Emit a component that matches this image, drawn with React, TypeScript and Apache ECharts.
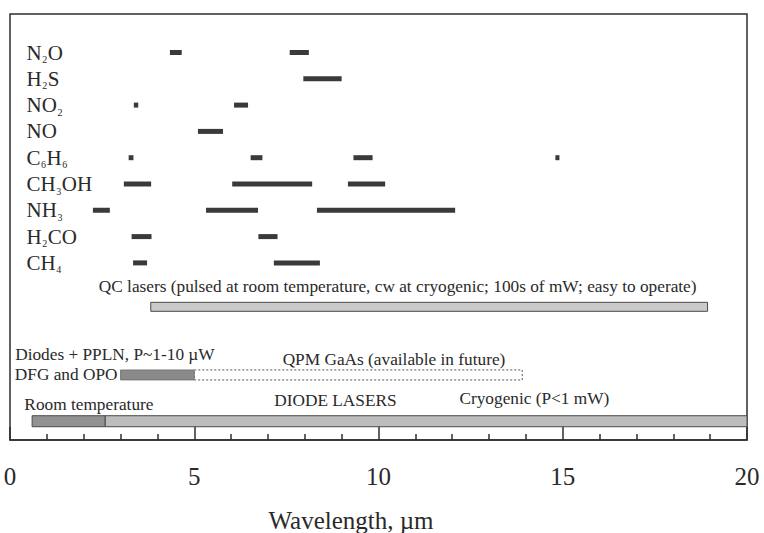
import React, { useEffect, useRef } from 'react';
import * as echarts from 'echarts';

// ---- Data -----------------------------------------------------------------

// Gas absorption bands, wavelength ranges in µm (one array per molecule)
const moleculeNames = ['N2O', 'H2S', 'NO2', 'NO', 'C6H6', 'CH3OH', 'NH3', 'H2CO', 'CH4'];
// How each formula is typeset: '_' marks the subscript digit that follows it
const moleculeFormulas = ['N_2O', 'H_2S', 'NO_2', 'NO', 'C_6H_6', 'CH_3OH', 'NH_3', 'H_2CO', 'CH_4'];

const n2oBands = [[4.34, 4.66], [7.59, 8.11]];
const h2sBands = [[7.96, 9.0]];
const no2Bands = [[3.36, 3.48], [6.08, 6.46]];
const noBands = [[5.1, 5.78]];
const c6h6Bands = [[3.22, 3.35], [6.53, 6.85], [9.32, 9.84], [14.8, 14.91]];
const ch3ohBands = [[3.09, 3.83], [6.03, 8.2], [9.17, 10.18]];
const nh3Bands = [[2.25, 2.71], [5.32, 6.73], [8.33, 12.08]];
const h2coBands = [[3.3, 3.84], [6.74, 7.26]];
const ch4Bands = [[3.34, 3.72], [7.16, 8.41]];

const moleculeBands = [n2oBands, h2sBands, no2Bands, noBands, c6h6Bands, ch3ohBands, nh3Bands, h2coBands, ch4Bands];

// Laser source coverage, µm
const qcLaserRange = [3.82, 18.93];
const dfgOpoRange = [3.0, 5.0];
const qpmGaAsRange = [5.0, 13.9];
const diodeRoomTempRange = [0.6, 2.58];
const diodeCryoRange = [2.58, 20];

// Wavelength axis
const wavelengthMin = 0;
const wavelengthMax = 20;
const wavelengthStep = 5;
const axisTitle = 'Wavelength, µm';

const annotationTexts = [
  'QC lasers (pulsed at room temperature, cw at cryogenic; 100s of mW; easy to operate)',
  'Diodes + PPLN, P~1-10 µW',
  'DFG and OPO',
  'QPM GaAs (available in future)',
  'Room temperature',
  'DIODE LASERS',
  'Cryogenic (P<1 mW)',
];

// ---- Layout ---------------------------------------------------------------

const SERIF = '"Liberation Serif", "Times New Roman", serif';
const INK = '#2a2a2a';

// vertical lanes (molecule rows are lanes 0..8)
const LANE_QC = 9.67;
const LANE_DFG = 12.26;
const LANE_DIODE = 14.02;

// [wavelength, lane, align] for each annotation text
const annotationLayout: [number, number, string][] = [
  [10.52, 8.88, 'center'],
  [0.14, 11.48, 'left'],
  [0.13, 12.26, 'left'],
  [10.42, 11.69, 'center'],
  [0.39, 13.37, 'left'],
  [8.83, 13.25, 'center'],
  [14.23, 13.17, 'center'],
];

const GRID = { left: 10, right: 17, top: 14, bottom: 93 };
const PX_PER_LANE = 26.3;
const FIRST_ROW_Y = 52.5;
const plotHeight = 533 - GRID.top - GRID.bottom;
const laneMin = -(FIRST_ROW_Y - GRID.top) / PX_PER_LANE;
const laneMax = laneMin + plotHeight / PX_PER_LANE;

const MAIN_FONT = `21px ${SERIF}`;
const SUB_FONT = `10px ${SERIF}`;
const SUB_DROP = 7;
const NOTE_FONT = `17.3px ${SERIF}`;

let measureCtx: CanvasRenderingContext2D | null = null;
function textWidth(s: string, font: string): number {
  if (!measureCtx) measureCtx = document.createElement('canvas').getContext('2d');
  measureCtx!.font = font;
  return measureCtx!.measureText(s).width;
}

// a horizontal bar series: each item is [start, end, lane]
function barSeries(name: string, items: number[][], height: number, style: any) {
  return {
    type: 'custom',
    name,
    data: items,
    encode: { x: [0, 1], y: 2 },
    silent: true,
    renderItem: (_params: any, api: any) => {
      const a = api.coord([api.value(0), api.value(2)]);
      const b = api.coord([api.value(1), api.value(2)]);
      return {
        type: 'rect',
        shape: { x: a[0], y: a[1] - height / 2, width: b[0] - a[0], height },
        style,
      };
    },
  };
}

function buildOption(): any {
  const bandItems: number[][] = [];
  moleculeBands.forEach((bands, row) => {
    bands.forEach(([s, e]) => bandItems.push([s, e, row]));
  });

  // chemical formulas, with subscripts set lower and smaller
  const labelSeries = {
    type: 'custom',
    name: 'molecules',
    data: moleculeNames.map((_, row) => [0.45, row]),
    encode: { x: 0, y: 1 },
    silent: true,
    renderItem: (params: any, api: any) => {
      const f = moleculeFormulas[params.dataIndex];
      const [x0, y0] = api.coord([api.value(0), api.value(1)]);
      const children: any[] = [];
      let pen = x0;
      let k = 0;
      while (k < f.length) {
        if (f[k] === '_') {
          const digit = f[k + 1];
          children.push({
            type: 'text',
            x: pen + 0.5,
            y: y0 + SUB_DROP,
            style: { text: digit, font: SUB_FONT, fill: INK, align: 'left', verticalAlign: 'middle' },
          });
          pen += textWidth(digit, SUB_FONT) + 1;
          k += 2;
        } else {
          let run = '';
          while (k < f.length && f[k] !== '_') run += f[k++];
          children.push({
            type: 'text',
            x: pen,
            y: y0,
            style: { text: run, font: MAIN_FONT, fill: INK, align: 'left', verticalAlign: 'middle' },
          });
          pen += textWidth(run, MAIN_FONT);
        }
      }
      return { type: 'group', children };
    },
  };

  const noteSeries = {
    type: 'custom',
    name: 'notes',
    data: annotationLayout.map(([x, lane]) => [x, lane]),
    encode: { x: 0, y: 1 },
    silent: true,
    renderItem: (params: any, api: any) => {
      const p = api.coord([api.value(0), api.value(1)]);
      return {
        type: 'text',
        x: p[0],
        y: p[1],
        style: {
          text: annotationTexts[params.dataIndex],
          font: NOTE_FONT,
          fill: INK,
          align: annotationLayout[params.dataIndex][2],
          verticalAlign: 'middle',
        },
      };
    },
  };

  return {
    animation: false,
    backgroundColor: '#ffffff',
    grid: { ...GRID, show: true, borderColor: '#2e2e2e', borderWidth: 1.5, backgroundColor: 'transparent' },
    xAxis: {
      type: 'value',
      min: wavelengthMin,
      max: wavelengthMax,
      interval: wavelengthStep,
      axisLine: { show: true, onZero: false, lineStyle: { color: '#2e2e2e', width: 1.5 } },
      axisTick: { show: true, inside: true, length: 13, lineStyle: { color: '#2e2e2e', width: 1.5 } },
      minorTick: { show: true, splitNumber: 5, length: 6, lineStyle: { color: '#2e2e2e', width: 1.5 } },
      splitLine: { show: false },
      axisLabel: { fontFamily: SERIF, fontSize: 25, color: INK, margin: 24 },
    },
    yAxis: {
      type: 'value',
      inverse: true,
      min: laneMin,
      max: laneMax,
      show: false,
    },
    graphic: [
      {
        type: 'text',
        x: 351,
        y: 520,
        style: { text: axisTitle, font: `25px ${SERIF}`, fill: INK, align: 'center', verticalAlign: 'middle' },
      },
    ],
    series: [
      barSeries('bands', bandItems, 5, { fill: '#3a3a3a' }),
      barSeries('qc', [[qcLaserRange[0], qcLaserRange[1], LANE_QC]], 9, {
        fill: '#cacaca', stroke: '#4a4a4a', lineWidth: 1,
      }),
      barSeries('qpm', [[qpmGaAsRange[0], qpmGaAsRange[1], LANE_DFG]], 10, {
        fill: 'transparent', stroke: '#555555', lineWidth: 1, lineDash: [2, 2],
      }),
      barSeries('dfg', [[dfgOpoRange[0], dfgOpoRange[1], LANE_DFG]], 10, {
        fill: '#8a8a8a', stroke: '#6a6a6a', lineWidth: 0.8,
      }),
      barSeries('diodeCryo', [[diodeCryoRange[0], diodeCryoRange[1], LANE_DIODE]], 11, {
        fill: '#bdbdbd', stroke: '#4a4a4a', lineWidth: 1,
      }),
      barSeries('diodeRoom', [[diodeRoomTempRange[0], diodeRoomTempRange[1], LANE_DIODE]], 11, {
        fill: '#929292', stroke: '#4a4a4a', lineWidth: 1,
      }),
      labelSeries,
      noteSeries,
    ],
  };
}

export default function App() {
  const ref = useRef<HTMLDivElement>(null);
  useEffect(() => {
    const chart = echarts.init(ref.current!, null, { renderer: 'svg' });
    chart.setOption(buildOption());
    return () => chart.dispose();
  }, []);
  return <div ref={ref} style={{ position: 'fixed', left: 0, top: 0, width: 764, height: 533 }} />;
}
